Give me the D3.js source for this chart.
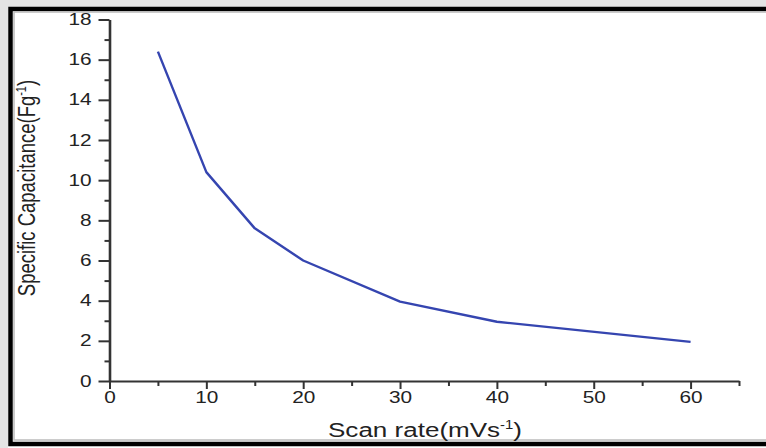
<!DOCTYPE html>
<html>
<head>
<meta charset="utf-8">
<script src="https://cdn.jsdelivr.net/npm/d3@7"></script>
<style>
  body { margin: 0; background: #fff; overflow: hidden; }
  svg { display: block; }
  text { font-family: "Liberation Sans", Arial, sans-serif; fill: #222; }
</style>
</head>
<body>
<svg id="chart" width="766" height="448"></svg>
<script>
// values
var scanRate = [5, 10, 15, 20, 30, 40, 60];
var capacitance = [16.4, 10.4, 7.6, 6.0, 3.95, 2.95, 1.95];
var xMajor = [0, 10, 20, 30, 40, 50, 60];
var xMinor = [5, 15, 25, 35, 45, 55, 65];
var yMajor = [0, 2, 4, 6, 8, 10, 12, 14, 16, 18];
var yMinor = [1, 3, 5, 7, 9, 11, 13, 15, 17];

var svg = d3.select('#chart');
var stretch = 1.3; // the picture is stretched sideways

// frame round the figure
svg.append('rect').attr('x', 0).attr('y', 0).attr('width', 766).attr('height', 7).attr('fill', '#e4e4e4');
svg.append('rect').attr('x', 0).attr('y', 0).attr('width', 8).attr('height', 448).attr('fill', '#e4e4e4');
svg.append('rect').attr('x', 10.5).attr('y', 9).attr('width', 1000).attr('height', 435)
    .attr('fill', 'none').attr('stroke', '#000').attr('stroke-width', 4.5);
svg.append('rect').attr('x', 14).attr('y', 12).attr('width', 1000).attr('height', 428)
    .attr('fill', 'none').attr('stroke', '#bbb').attr('stroke-width', 1.5);

var x = d3.scaleLinear().domain([0, 65]).range([109.5, 739]);
var y = d3.scaleLinear().domain([0, 18]).range([381, 19.5]);

// minor ticks
svg.append('g').attr('transform', 'translate(0,381)')
    .call(d3.axisBottom(x).tickValues(xMinor).tickSize(5).tickFormat(''))
    .call(function (g) { g.select('.domain').remove(); });
svg.append('g').attr('transform', 'translate(109.5,0)')
    .call(d3.axisLeft(y).tickValues(yMinor).tickSize(5).tickFormat(''))
    .call(function (g) { g.select('.domain').remove(); });

// major ticks + axis lines
var xAxis = svg.append('g').attr('transform', 'translate(0,381)')
    .call(d3.axisBottom(x).tickValues(xMajor).tickSize(8).tickSizeOuter(0).tickPadding(6));
var yAxis = svg.append('g').attr('transform', 'translate(109.5,0)')
    .call(d3.axisLeft(y).tickValues(yMajor).tickSize(11).tickSizeOuter(0).tickPadding(7));

svg.selectAll('.tick line').attr('stroke', '#333').attr('stroke-width', 2);
xAxis.select('.domain').attr('stroke', '#333').attr('stroke-width', 2);
yAxis.select('.domain').attr('stroke', '#333').attr('stroke-width', 2.6);

xAxis.selectAll('.tick text').attr('font-size', 16).attr('fill', '#222')
    .attr('font-family', '"Liberation Sans", Arial, sans-serif')
    .attr('y', 11)
    .attr('transform', 'scale(' + stretch + ',1)');
yAxis.selectAll('.tick text').attr('font-size', 16).attr('fill', '#222')
    .attr('font-family', '"Liberation Sans", Arial, sans-serif')
    .attr('x', -18 / stretch)
    .attr('transform', 'scale(' + stretch + ',1)');

// the curve
var line = d3.line()
    .x(function (d, i) { return x(scanRate[i]); })
    .y(function (d) { return y(d); });

svg.append('path')
    .datum(capacitance)
    .attr('d', line)
    .attr('fill', 'none')
    .attr('stroke', '#3545b0')
    .attr('stroke-width', 2.4)
    .attr('stroke-linejoin', 'round');

// axis titles
var xt = svg.append('text')
    .attr('text-anchor', 'middle')
    .attr('font-size', 21)
    .attr('transform', 'translate(425,437) scale(1.24,1)');
xt.append('tspan').text('Scan rate(mVs');
xt.append('tspan').attr('font-size', 12).attr('dy', -8).text('-1');
xt.append('tspan').attr('dy', 8).text(')');

var yt = svg.append('text')
    .attr('text-anchor', 'middle')
    .attr('font-size', 18.5)
    .attr('transform', 'translate(35,188) rotate(-90) scale(1,' + stretch + ')');
yt.append('tspan').text('Specific Capacitance(Fg');
yt.append('tspan').attr('font-size', 11).attr('dy', -7).text('-1');
yt.append('tspan').attr('dy', 7).text(')');
</script>
</body>
</html>
